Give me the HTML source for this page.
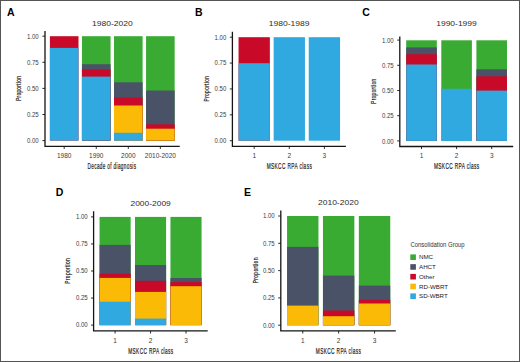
<!DOCTYPE html>
<html><head><meta charset="utf-8"><style>
html,body{margin:0;padding:0;background:#fff;}
body{width:520px;height:362px;overflow:hidden;}
svg{display:block;font-family:"Liberation Sans", sans-serif;}
</style></head><body>
<svg width="520" height="362" viewBox="0 0 520 362">
<rect x="0" y="0" width="520" height="362" fill="#fff"/>
<rect x="49.90" y="36.20" width="28.60" height="104.40" fill="#C80A28"/>
<rect x="49.90" y="47.90" width="28.60" height="92.70" fill="#30A8E0"/>
<rect x="81.95" y="36.20" width="28.60" height="104.40" fill="#39AB33"/>
<rect x="81.95" y="64.20" width="28.60" height="76.40" fill="#4A5267"/>
<rect x="81.95" y="69.40" width="28.60" height="71.20" fill="#C80A28"/>
<rect x="81.95" y="76.60" width="28.60" height="64.00" fill="#30A8E0"/>
<rect x="114.00" y="36.20" width="28.60" height="104.40" fill="#39AB33"/>
<rect x="114.00" y="82.30" width="28.60" height="58.30" fill="#4A5267"/>
<rect x="114.00" y="97.50" width="28.60" height="43.10" fill="#C80A28"/>
<rect x="114.00" y="105.50" width="28.60" height="35.10" fill="#FBBA06"/>
<rect x="114.00" y="132.80" width="28.60" height="7.80" fill="#30A8E0"/>
<rect x="146.05" y="36.20" width="28.60" height="104.40" fill="#39AB33"/>
<rect x="146.05" y="90.50" width="28.60" height="50.10" fill="#4A5267"/>
<rect x="146.05" y="124.30" width="28.60" height="16.30" fill="#C80A28"/>
<rect x="146.05" y="128.70" width="28.60" height="11.90" fill="#FBBA06"/>
<path d="M45 31.1 V146.3 H179.7" fill="none" stroke="#151515" stroke-width="1.3"/>
<path d="M42.4 140.60 H45" stroke="#151515" stroke-width="0.9"/>
<text x="38.7" y="142.9" font-size="6.5" text-anchor="end" font-weight="normal" fill="#3a3a3a" textLength="11.7" lengthAdjust="spacingAndGlyphs" >0.00</text>
<path d="M42.4 114.50 H45" stroke="#151515" stroke-width="0.9"/>
<text x="38.7" y="116.8" font-size="6.5" text-anchor="end" font-weight="normal" fill="#3a3a3a" textLength="11.7" lengthAdjust="spacingAndGlyphs" >0.25</text>
<path d="M42.4 88.40 H45" stroke="#151515" stroke-width="0.9"/>
<text x="38.7" y="90.7" font-size="6.5" text-anchor="end" font-weight="normal" fill="#3a3a3a" textLength="11.7" lengthAdjust="spacingAndGlyphs" >0.50</text>
<path d="M42.4 62.30 H45" stroke="#151515" stroke-width="0.9"/>
<text x="38.7" y="64.6" font-size="6.5" text-anchor="end" font-weight="normal" fill="#3a3a3a" textLength="11.7" lengthAdjust="spacingAndGlyphs" >0.75</text>
<path d="M42.4 36.20 H45" stroke="#151515" stroke-width="0.9"/>
<text x="38.7" y="38.5" font-size="6.5" text-anchor="end" font-weight="normal" fill="#3a3a3a" textLength="11.7" lengthAdjust="spacingAndGlyphs" >1.00</text>
<path d="M64.2 146.3 V148.9" stroke="#151515" stroke-width="0.9"/>
<text x="64.2" y="157.9" font-size="6.5" text-anchor="middle" font-weight="normal" fill="#3a3a3a" >1980</text>
<path d="M96.25 146.3 V148.9" stroke="#151515" stroke-width="0.9"/>
<text x="96.25" y="157.9" font-size="6.5" text-anchor="middle" font-weight="normal" fill="#3a3a3a" >1990</text>
<path d="M128.3 146.3 V148.9" stroke="#151515" stroke-width="0.9"/>
<text x="128.3" y="157.9" font-size="6.5" text-anchor="middle" font-weight="normal" fill="#3a3a3a" >2000</text>
<path d="M160.35 146.3 V148.9" stroke="#151515" stroke-width="0.9"/>
<text x="160.35" y="157.9" font-size="6.5" text-anchor="middle" font-weight="normal" fill="#3a3a3a" >2010-2020</text>
<text x="112.35" y="25.7" font-size="7.9" text-anchor="middle" font-weight="normal" fill="#2a2a2a" textLength="40.8" lengthAdjust="spacingAndGlyphs" >1980-2020</text>
<text x="112.0" y="169.35000000000002" font-size="9.0" text-anchor="middle" font-weight="normal" fill="#222" textLength="48.900000000000006" lengthAdjust="spacingAndGlyphs" stroke="#222" stroke-width="0.2" letter-spacing="0.7">Decade of diagnosis</text>
<text transform="translate(21.0 88.4) rotate(-90)" x="0" y="0" font-size="7.9" text-anchor="middle" fill="#222" stroke="#222" stroke-width="0.2" letter-spacing="0.5" textLength="25.2" lengthAdjust="spacingAndGlyphs">Proportion</text>
<text x="7.0" y="16.0" font-size="10.5" text-anchor="start" font-weight="bold" fill="#000" >A</text>
<rect x="238.55" y="37.20" width="31.30" height="103.50" fill="#C80A28"/>
<rect x="238.55" y="63.20" width="31.30" height="77.50" fill="#30A8E0"/>
<rect x="273.65" y="37.20" width="31.30" height="103.50" fill="#30A8E0"/>
<rect x="308.75" y="37.20" width="31.30" height="103.50" fill="#30A8E0"/>
<path d="M232.4 31.8 V146.3 H345.9" fill="none" stroke="#151515" stroke-width="1.3"/>
<path d="M229.8 140.70 H232.4" stroke="#151515" stroke-width="0.9"/>
<text x="226.29999999999998" y="143.0" font-size="6.5" text-anchor="end" font-weight="normal" fill="#3a3a3a" textLength="11.7" lengthAdjust="spacingAndGlyphs" >0.00</text>
<path d="M229.8 114.82 H232.4" stroke="#151515" stroke-width="0.9"/>
<text x="226.29999999999998" y="117.12499999999999" font-size="6.5" text-anchor="end" font-weight="normal" fill="#3a3a3a" textLength="11.7" lengthAdjust="spacingAndGlyphs" >0.25</text>
<path d="M229.8 88.95 H232.4" stroke="#151515" stroke-width="0.9"/>
<text x="226.29999999999998" y="91.24999999999999" font-size="6.5" text-anchor="end" font-weight="normal" fill="#3a3a3a" textLength="11.7" lengthAdjust="spacingAndGlyphs" >0.50</text>
<path d="M229.8 63.08 H232.4" stroke="#151515" stroke-width="0.9"/>
<text x="226.29999999999998" y="65.375" font-size="6.5" text-anchor="end" font-weight="normal" fill="#3a3a3a" textLength="11.7" lengthAdjust="spacingAndGlyphs" >0.75</text>
<path d="M229.8 37.20 H232.4" stroke="#151515" stroke-width="0.9"/>
<text x="226.29999999999998" y="39.5" font-size="6.5" text-anchor="end" font-weight="normal" fill="#3a3a3a" textLength="11.7" lengthAdjust="spacingAndGlyphs" >1.00</text>
<path d="M254.2 146.3 V148.9" stroke="#151515" stroke-width="0.9"/>
<text x="254.2" y="157.9" font-size="6.5" text-anchor="middle" font-weight="normal" fill="#3a3a3a" >1</text>
<path d="M289.3 146.3 V148.9" stroke="#151515" stroke-width="0.9"/>
<text x="289.3" y="157.9" font-size="6.5" text-anchor="middle" font-weight="normal" fill="#3a3a3a" >2</text>
<path d="M324.4 146.3 V148.9" stroke="#151515" stroke-width="0.9"/>
<text x="324.4" y="157.9" font-size="6.5" text-anchor="middle" font-weight="normal" fill="#3a3a3a" >3</text>
<text x="289.15" y="25.8" font-size="7.9" text-anchor="middle" font-weight="normal" fill="#2a2a2a" textLength="40.8" lengthAdjust="spacingAndGlyphs" >1980-1989</text>
<text x="289.4" y="169.25" font-size="9.0" text-anchor="middle" font-weight="normal" fill="#222" textLength="45.5" lengthAdjust="spacingAndGlyphs" stroke="#222" stroke-width="0.2" letter-spacing="0.7">MSKCC RPA class</text>
<text transform="translate(208.8 88.6) rotate(-90)" x="0" y="0" font-size="7.9" text-anchor="middle" fill="#222" stroke="#222" stroke-width="0.2" letter-spacing="0.5" textLength="25.6" lengthAdjust="spacingAndGlyphs">Proportion</text>
<text x="195.0" y="16.1" font-size="10.5" text-anchor="start" font-weight="bold" fill="#000" >B</text>
<rect x="406.20" y="40.30" width="30.60" height="100.60" fill="#39AB33"/>
<rect x="406.20" y="47.40" width="30.60" height="93.50" fill="#4A5267"/>
<rect x="406.20" y="54.20" width="30.60" height="86.70" fill="#C80A28"/>
<rect x="406.20" y="64.50" width="30.60" height="76.40" fill="#30A8E0"/>
<rect x="441.30" y="40.30" width="30.60" height="100.60" fill="#39AB33"/>
<rect x="441.30" y="88.80" width="30.60" height="52.10" fill="#30A8E0"/>
<rect x="476.40" y="40.30" width="30.60" height="100.60" fill="#39AB33"/>
<rect x="476.40" y="69.30" width="30.60" height="71.60" fill="#4A5267"/>
<rect x="476.40" y="76.30" width="30.60" height="64.60" fill="#C80A28"/>
<rect x="476.40" y="90.60" width="30.60" height="50.30" fill="#30A8E0"/>
<path d="M399.8 36.5 V146.5 H513.2" fill="none" stroke="#151515" stroke-width="1.3"/>
<path d="M397.2 140.90 H399.8" stroke="#151515" stroke-width="0.9"/>
<text x="393.7" y="143.50000000000003" font-size="6.5" text-anchor="end" font-weight="normal" fill="#3a3a3a" textLength="11.7" lengthAdjust="spacingAndGlyphs" >0.00</text>
<path d="M397.2 115.70 H399.8" stroke="#151515" stroke-width="0.9"/>
<text x="393.7" y="118.3" font-size="6.5" text-anchor="end" font-weight="normal" fill="#3a3a3a" textLength="11.7" lengthAdjust="spacingAndGlyphs" >0.25</text>
<path d="M397.2 90.50 H399.8" stroke="#151515" stroke-width="0.9"/>
<text x="393.7" y="93.1" font-size="6.5" text-anchor="end" font-weight="normal" fill="#3a3a3a" textLength="11.7" lengthAdjust="spacingAndGlyphs" >0.50</text>
<path d="M397.2 65.30 H399.8" stroke="#151515" stroke-width="0.9"/>
<text x="393.7" y="67.89999999999999" font-size="6.5" text-anchor="end" font-weight="normal" fill="#3a3a3a" textLength="11.7" lengthAdjust="spacingAndGlyphs" >0.75</text>
<path d="M397.2 40.10 H399.8" stroke="#151515" stroke-width="0.9"/>
<text x="393.7" y="42.69999999999999" font-size="6.5" text-anchor="end" font-weight="normal" fill="#3a3a3a" textLength="11.7" lengthAdjust="spacingAndGlyphs" >1.00</text>
<path d="M421.5 146.5 V149.1" stroke="#151515" stroke-width="0.9"/>
<text x="421.5" y="158.1" font-size="6.5" text-anchor="middle" font-weight="normal" fill="#3a3a3a" >1</text>
<path d="M456.6 146.5 V149.1" stroke="#151515" stroke-width="0.9"/>
<text x="456.6" y="158.1" font-size="6.5" text-anchor="middle" font-weight="normal" fill="#3a3a3a" >2</text>
<path d="M491.7 146.5 V149.1" stroke="#151515" stroke-width="0.9"/>
<text x="491.7" y="158.1" font-size="6.5" text-anchor="middle" font-weight="normal" fill="#3a3a3a" >3</text>
<text x="456.5" y="25.7" font-size="7.9" text-anchor="middle" font-weight="normal" fill="#2a2a2a" textLength="40.6" lengthAdjust="spacingAndGlyphs" >1990-1999</text>
<text x="456.75" y="169.35000000000002" font-size="9.0" text-anchor="middle" font-weight="normal" fill="#222" textLength="45.6" lengthAdjust="spacingAndGlyphs" stroke="#222" stroke-width="0.2" letter-spacing="0.7">MSKCC RPA class</text>
<text transform="translate(376.40000000000003 91.2) rotate(-90)" x="0" y="0" font-size="7.9" text-anchor="middle" fill="#222" stroke="#222" stroke-width="0.2" letter-spacing="0.5" textLength="25.4" lengthAdjust="spacingAndGlyphs">Proportion</text>
<text x="362.29999999999995" y="16.2" font-size="10.5" text-anchor="start" font-weight="bold" fill="#000" >C</text>
<rect x="99.55" y="216.90" width="31.10" height="108.20" fill="#39AB33"/>
<rect x="99.55" y="244.90" width="31.10" height="80.20" fill="#4A5267"/>
<rect x="99.55" y="273.70" width="31.10" height="51.40" fill="#C80A28"/>
<rect x="99.55" y="277.90" width="31.10" height="47.20" fill="#FBBA06"/>
<rect x="99.55" y="301.70" width="31.10" height="23.40" fill="#30A8E0"/>
<rect x="135.00" y="216.90" width="31.10" height="108.20" fill="#39AB33"/>
<rect x="135.00" y="265.00" width="31.10" height="60.10" fill="#4A5267"/>
<rect x="135.00" y="280.80" width="31.10" height="44.30" fill="#C80A28"/>
<rect x="135.00" y="291.90" width="31.10" height="33.20" fill="#FBBA06"/>
<rect x="135.00" y="318.60" width="31.10" height="6.50" fill="#30A8E0"/>
<rect x="170.45" y="216.90" width="31.10" height="108.20" fill="#39AB33"/>
<rect x="170.45" y="278.00" width="31.10" height="47.10" fill="#4A5267"/>
<rect x="170.45" y="282.10" width="31.10" height="43.00" fill="#C80A28"/>
<rect x="170.45" y="286.20" width="31.10" height="38.90" fill="#FBBA06"/>
<path d="M93.6 211.2 V330.9 H207.7" fill="none" stroke="#151515" stroke-width="1.3"/>
<path d="M91.0 325.10 H93.6" stroke="#151515" stroke-width="0.9"/>
<text x="87.7" y="327.40000000000003" font-size="6.5" text-anchor="end" font-weight="normal" fill="#3a3a3a" textLength="11.7" lengthAdjust="spacingAndGlyphs" >0.00</text>
<path d="M91.0 298.05 H93.6" stroke="#151515" stroke-width="0.9"/>
<text x="87.7" y="300.35" font-size="6.5" text-anchor="end" font-weight="normal" fill="#3a3a3a" textLength="11.7" lengthAdjust="spacingAndGlyphs" >0.25</text>
<path d="M91.0 271.00 H93.6" stroke="#151515" stroke-width="0.9"/>
<text x="87.7" y="273.3" font-size="6.5" text-anchor="end" font-weight="normal" fill="#3a3a3a" textLength="11.7" lengthAdjust="spacingAndGlyphs" >0.50</text>
<path d="M91.0 243.95 H93.6" stroke="#151515" stroke-width="0.9"/>
<text x="87.7" y="246.25000000000003" font-size="6.5" text-anchor="end" font-weight="normal" fill="#3a3a3a" textLength="11.7" lengthAdjust="spacingAndGlyphs" >0.75</text>
<path d="M91.0 216.90 H93.6" stroke="#151515" stroke-width="0.9"/>
<text x="87.7" y="219.20000000000002" font-size="6.5" text-anchor="end" font-weight="normal" fill="#3a3a3a" textLength="11.7" lengthAdjust="spacingAndGlyphs" >1.00</text>
<path d="M115.1 330.9 V333.5" stroke="#151515" stroke-width="0.9"/>
<text x="115.1" y="342.5" font-size="6.5" text-anchor="middle" font-weight="normal" fill="#3a3a3a" >1</text>
<path d="M150.55 330.9 V333.5" stroke="#151515" stroke-width="0.9"/>
<text x="150.55" y="342.5" font-size="6.5" text-anchor="middle" font-weight="normal" fill="#3a3a3a" >2</text>
<path d="M186.0 330.9 V333.5" stroke="#151515" stroke-width="0.9"/>
<text x="186.0" y="342.5" font-size="6.5" text-anchor="middle" font-weight="normal" fill="#3a3a3a" >3</text>
<text x="150.64999999999998" y="206.3" font-size="7.9" text-anchor="middle" font-weight="normal" fill="#2a2a2a" textLength="40.4" lengthAdjust="spacingAndGlyphs" >2000-2009</text>
<text x="150.89999999999998" y="353.85" font-size="9.0" text-anchor="middle" font-weight="normal" fill="#222" textLength="45.300000000000004" lengthAdjust="spacingAndGlyphs" stroke="#222" stroke-width="0.2" letter-spacing="0.7">MSKCC RPA class</text>
<text transform="translate(69.6 270.8) rotate(-90)" x="0" y="0" font-size="7.9" text-anchor="middle" fill="#222" stroke="#222" stroke-width="0.2" letter-spacing="0.5" textLength="25.8" lengthAdjust="spacingAndGlyphs">Proportion</text>
<text x="55.699999999999996" y="195.7" font-size="10.5" text-anchor="start" font-weight="bold" fill="#000" >D</text>
<rect x="287.05" y="216.00" width="31.40" height="109.20" fill="#39AB33"/>
<rect x="287.05" y="246.90" width="31.40" height="78.30" fill="#4A5267"/>
<rect x="287.05" y="305.60" width="31.40" height="19.60" fill="#FBBA06"/>
<rect x="322.95" y="216.00" width="31.40" height="109.20" fill="#39AB33"/>
<rect x="322.95" y="275.60" width="31.40" height="49.60" fill="#4A5267"/>
<rect x="322.95" y="310.50" width="31.40" height="14.70" fill="#C80A28"/>
<rect x="322.95" y="316.20" width="31.40" height="9.00" fill="#FBBA06"/>
<rect x="358.85" y="216.00" width="31.40" height="109.20" fill="#39AB33"/>
<rect x="358.85" y="285.60" width="31.40" height="39.60" fill="#4A5267"/>
<rect x="358.85" y="299.80" width="31.40" height="25.40" fill="#C80A28"/>
<rect x="358.85" y="303.50" width="31.40" height="21.70" fill="#FBBA06"/>
<path d="M280.8 210.4 V330.9 H395.8" fill="none" stroke="#151515" stroke-width="1.3"/>
<path d="M278.2 325.20 H280.8" stroke="#151515" stroke-width="0.9"/>
<text x="274.7" y="327.5" font-size="6.5" text-anchor="end" font-weight="normal" fill="#3a3a3a" textLength="11.7" lengthAdjust="spacingAndGlyphs" >0.00</text>
<path d="M278.2 297.90 H280.8" stroke="#151515" stroke-width="0.9"/>
<text x="274.7" y="300.2" font-size="6.5" text-anchor="end" font-weight="normal" fill="#3a3a3a" textLength="11.7" lengthAdjust="spacingAndGlyphs" >0.25</text>
<path d="M278.2 270.60 H280.8" stroke="#151515" stroke-width="0.9"/>
<text x="274.7" y="272.90000000000003" font-size="6.5" text-anchor="end" font-weight="normal" fill="#3a3a3a" textLength="11.7" lengthAdjust="spacingAndGlyphs" >0.50</text>
<path d="M278.2 243.30 H280.8" stroke="#151515" stroke-width="0.9"/>
<text x="274.7" y="245.60000000000002" font-size="6.5" text-anchor="end" font-weight="normal" fill="#3a3a3a" textLength="11.7" lengthAdjust="spacingAndGlyphs" >0.75</text>
<path d="M278.2 216.00 H280.8" stroke="#151515" stroke-width="0.9"/>
<text x="274.7" y="218.3" font-size="6.5" text-anchor="end" font-weight="normal" fill="#3a3a3a" textLength="11.7" lengthAdjust="spacingAndGlyphs" >1.00</text>
<path d="M302.75 330.9 V333.5" stroke="#151515" stroke-width="0.9"/>
<text x="302.75" y="342.5" font-size="6.5" text-anchor="middle" font-weight="normal" fill="#3a3a3a" >1</text>
<path d="M338.65 330.9 V333.5" stroke="#151515" stroke-width="0.9"/>
<text x="338.65" y="342.5" font-size="6.5" text-anchor="middle" font-weight="normal" fill="#3a3a3a" >2</text>
<path d="M374.55 330.9 V333.5" stroke="#151515" stroke-width="0.9"/>
<text x="374.55" y="342.5" font-size="6.5" text-anchor="middle" font-weight="normal" fill="#3a3a3a" >3</text>
<text x="338.3" y="205.3" font-size="7.9" text-anchor="middle" font-weight="normal" fill="#2a2a2a" textLength="40.699999999999996" lengthAdjust="spacingAndGlyphs" >2010-2020</text>
<text x="338.55" y="353.85" font-size="9.0" text-anchor="middle" font-weight="normal" fill="#222" textLength="45.5" lengthAdjust="spacingAndGlyphs" stroke="#222" stroke-width="0.2" letter-spacing="0.7">MSKCC RPA class</text>
<text transform="translate(257.8 270.3) rotate(-90)" x="0" y="0" font-size="7.9" text-anchor="middle" fill="#222" stroke="#222" stroke-width="0.2" letter-spacing="0.5" textLength="26" lengthAdjust="spacingAndGlyphs">Proportion</text>
<text x="244.0" y="195.79999999999998" font-size="10.5" text-anchor="start" font-weight="bold" fill="#000" >E</text>
<text x="410.4" y="247.0" font-size="6.4" text-anchor="start" font-weight="normal" fill="#333" textLength="54.2" lengthAdjust="spacingAndGlyphs" >Consolidation Group</text>
<rect x="410.3" y="254.40" width="5.6" height="5.6" fill="#39AB33"/>
<text x="419" y="259.4" font-size="6.2" text-anchor="start" font-weight="normal" fill="#222" >NMC</text>
<rect x="410.3" y="264.15" width="5.6" height="5.6" fill="#4A5267"/>
<text x="419" y="269.15" font-size="6.2" text-anchor="start" font-weight="normal" fill="#222" >AHCT</text>
<rect x="410.3" y="273.90" width="5.6" height="5.6" fill="#C80A28"/>
<text x="419" y="278.9" font-size="6.2" text-anchor="start" font-weight="normal" fill="#222" >Other</text>
<rect x="410.3" y="283.65" width="5.6" height="5.6" fill="#FBBA06"/>
<text x="419" y="288.65" font-size="6.2" text-anchor="start" font-weight="normal" fill="#222" >RD-WBRT</text>
<rect x="410.3" y="293.40" width="5.6" height="5.6" fill="#30A8E0"/>
<text x="419" y="298.4" font-size="6.2" text-anchor="start" font-weight="normal" fill="#222" >SD-WBRT</text>
<rect x="0.5" y="0.5" width="519" height="361" fill="none" stroke="#555" stroke-width="1"/>
</svg>
</body></html>
